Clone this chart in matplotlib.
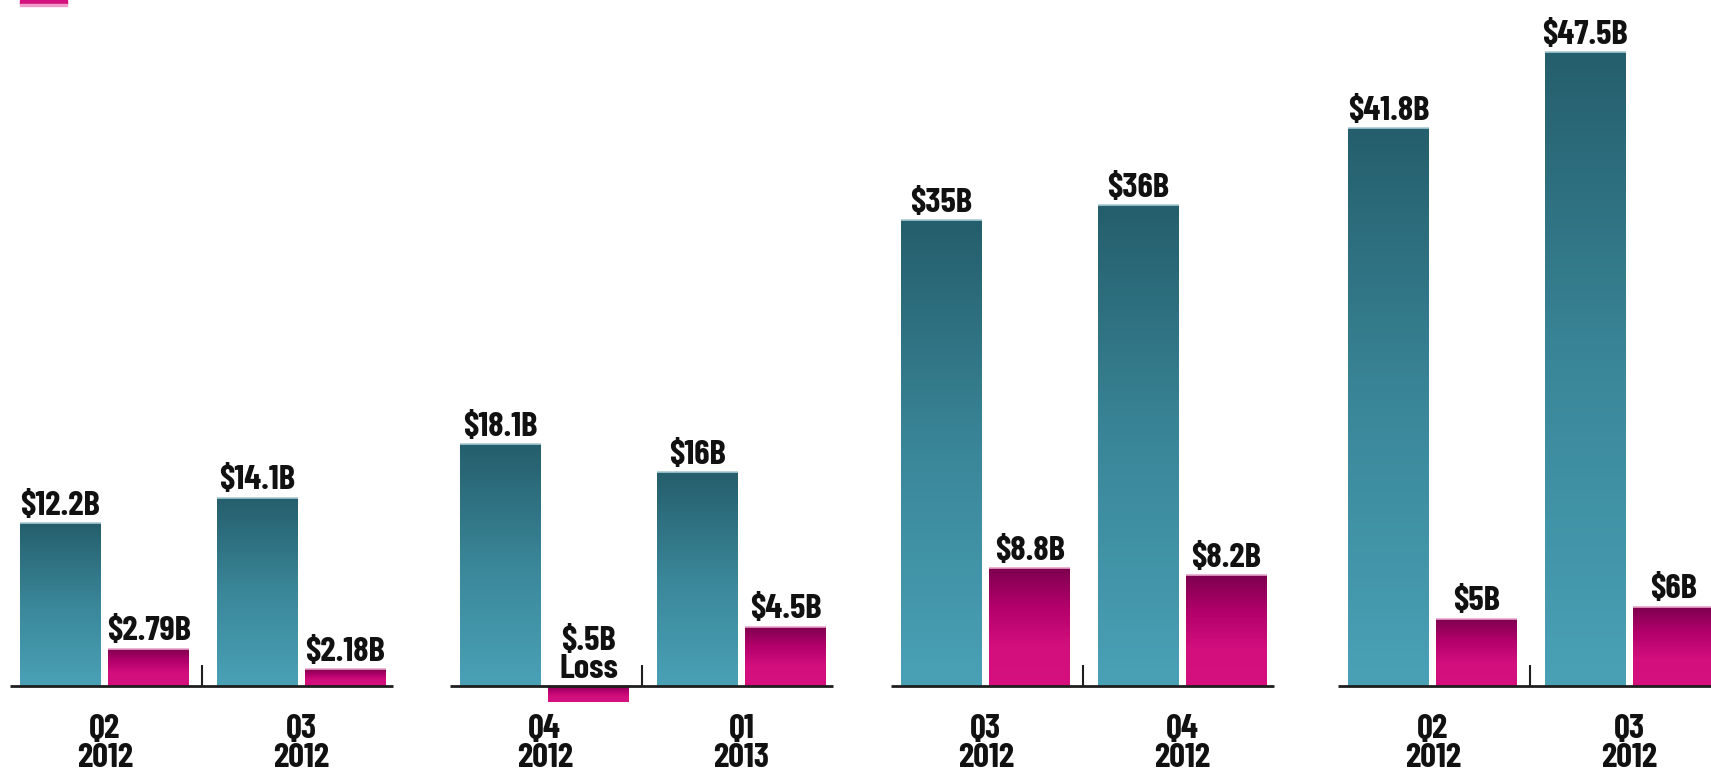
import numpy as np
import matplotlib
matplotlib.use("Agg")
import matplotlib.pyplot as plt
from matplotlib.colors import LinearSegmentedColormap
from matplotlib.patches import Rectangle

# data (bar heights in $B as drawn)
periods = ['Q2\n2012', 'Q3\n2012', 'Q4\n2012', 'Q1\n2013',
           'Q3\n2012', 'Q4\n2012', 'Q2\n2012', 'Q3\n2012']
teal_vals = [12.2, 14.1, 18.1, 16.0, 34.9, 36.0, 41.8, 47.5]
pink_vals = [2.79, 1.25, -1.2, 4.45, 8.85, 8.3, 5.05, 5.95]
teal_labels = ['$12.2B', '$14.1B', '$18.1B', '$16B', '$35B', '$36B', '$41.8B', '$47.5B']
pink_labels = ['$2.79B', '$2.18B', '$.5B\nLoss', '$4.5B', '$8.8B', '$8.2B', '$5B', '$6B']

# layout (pixels on a 1711 x 774 canvas)
W, H = 1711, 774
BASE_PX = 88          # baseline height from bottom
PX_PER_B = 13.35
GROUP_LEFT = [20, 460, 901, 1348]
OFFSETS = [0, 88.5, 197, 285]   # teal1, pink1, teal2, pink2
BAR_W = 81
DIVIDER = 182

FONT = ['Barlow Condensed', 'IBM Plex Sans Condensed', 'DejaVu Sans']
FS = 25
TXT = '#111111'

teal_cmap = LinearSegmentedColormap.from_list('teal', ['#255e6c', '#3a8799', '#4aa1b6'])
pink_cmap = LinearSegmentedColormap.from_list('pink', ['#7c004e', '#b3006b', '#d20f7d', '#d6117f'])

fig = plt.figure(figsize=(W / 100, H / 100), dpi=100)
ax = fig.add_axes([0, 0, 1, 1])
ax.set_xlim(0, W)
ax.set_ylim(-BASE_PX / PX_PER_B, (H - BASE_PX) / PX_PER_B)
ax.axis('off')

grad = np.linspace(0, 1, 256).reshape(-1, 1)


def gradient_bar(x, h, cmap, edge):
    bar = ax.bar(x, h, width=BAR_W, align='edge', color='none', zorder=2)[0]
    top, bot = max(h, 0), min(h, 0)
    im = ax.imshow(grad, cmap=cmap, aspect='auto', origin='upper',
                   extent=(x, x + BAR_W, bot, top), zorder=2)
    im.set_clip_path(bar)
    ax.plot([x, x + BAR_W], [top, top], color=edge, lw=1.2, zorder=3,
            solid_capstyle='butt')


for i in range(len(periods)):
    g, q = divmod(i, 2)
    gx = GROUP_LEFT[g]
    xt = gx + OFFSETS[2 * q]
    xp = gx + OFFSETS[2 * q + 1]
    gradient_bar(xt, teal_vals[i], teal_cmap, '#a9cbd3')
    gradient_bar(xp, pink_vals[i], pink_cmap, '#e9a6cb')

    ax.annotate(teal_labels[i], (xt + BAR_W / 2, teal_vals[i]), xytext=(0, 6),
                textcoords='offset points', ha='center', va='baseline',
                fontsize=FS, fontweight='bold', family=FONT, color=TXT)
    ax.annotate(pink_labels[i], (xp + BAR_W / 2, max(pink_vals[i], 0)), xytext=(0, 6),
                textcoords='offset points', ha='center', va='baseline',
                fontsize=FS, fontweight='bold', family=FONT, color=TXT,
                linespacing=0.92)
    ax.annotate(periods[i], ((xt + xp + BAR_W) / 2, 0), xytext=(0, -20),
                textcoords='offset points', ha='center', va='top',
                fontsize=FS, fontweight='bold', family=FONT, color=TXT,
                linespacing=0.95)

for gx in GROUP_LEFT:
    ax.plot([gx - 10, gx + 373], [0, 0], color='#1e1e1e', lw=2, zorder=4,
            solid_capstyle='butt')
    ax.plot([gx + DIVIDER] * 2, [0, 21 / PX_PER_B], color='#1e1e1e', lw=1.5,
            zorder=4, solid_capstyle='butt')

# cut-off legend swatch at the top-left
ax.add_patch(Rectangle((20 / W, 1 - 4 / H), 47 / W, 4 / H, transform=ax.transAxes,
                       color='#d4117f', zorder=5, clip_on=False))
ax.add_patch(Rectangle((20 / W, 1 - 5.5 / H), 47 / W, 1.5 / H, transform=ax.transAxes,
                       color='#ee9cc8', zorder=5, clip_on=False))

fig.savefig('out.png', dpi=100)
